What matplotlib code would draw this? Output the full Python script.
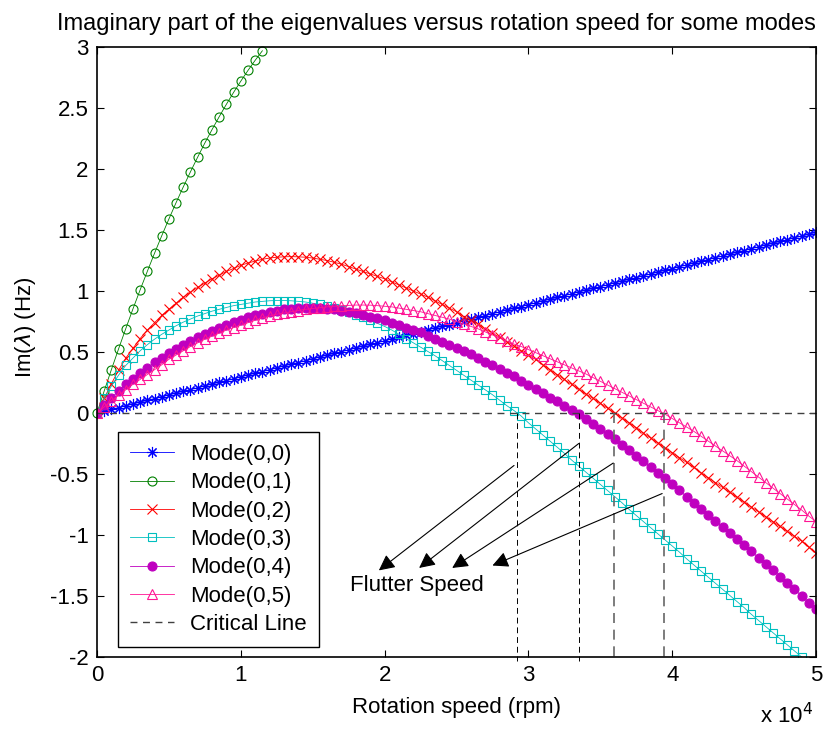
import numpy as np
import matplotlib
matplotlib.use('Agg')
import matplotlib.pyplot as plt

plt.rcParams['font.family'] = ['Liberation Sans', 'DejaVu Sans']

# rotation speed, in units of 1e4 rpm (one sample every 500 rpm)
speed = np.linspace(0, 5, 101)
speed_01 = speed[:24]

# imaginary part of eigenvalues (Hz)
mode_00 = [0.000, 0.015, 0.030, 0.044, 0.059, 0.074, 0.089, 0.104, 0.118, 0.133,
           0.148, 0.163, 0.178, 0.192, 0.207, 0.222, 0.237, 0.252, 0.266, 0.281,
           0.296, 0.311, 0.326, 0.340, 0.355, 0.370, 0.385, 0.400, 0.414, 0.429,
           0.444, 0.459, 0.474, 0.488, 0.503, 0.518, 0.533, 0.548, 0.562, 0.577,
           0.592, 0.607, 0.622, 0.636, 0.651, 0.666, 0.681, 0.696, 0.710, 0.725,
           0.740, 0.755, 0.770, 0.784, 0.799, 0.814, 0.829, 0.844, 0.858, 0.873,
           0.888, 0.903, 0.918, 0.932, 0.947, 0.962, 0.977, 0.992, 1.006, 1.021,
           1.036, 1.051, 1.066, 1.080, 1.095, 1.110, 1.125, 1.140, 1.154, 1.169,
           1.184, 1.199, 1.214, 1.228, 1.243, 1.258, 1.273, 1.288, 1.302, 1.317,
           1.332, 1.347, 1.362, 1.376, 1.391, 1.406, 1.421, 1.436, 1.450, 1.465,
           1.480]

mode_01 = [0.000, 0.180, 0.355, 0.525, 0.691, 0.853, 1.009, 1.161, 1.309, 1.452,
           1.590, 1.724, 1.853, 1.977, 2.097, 2.213, 2.323, 2.429, 2.531, 2.628,
           2.720, 2.808, 2.891, 2.969]

mode_02 = [0.000, 0.120, 0.240, 0.350, 0.450, 0.530, 0.610, 0.680, 0.740, 0.800,
           0.850, 0.900, 0.950, 0.990, 1.030, 1.065, 1.100, 1.130, 1.160, 1.185,
           1.210, 1.230, 1.245, 1.260, 1.270, 1.277, 1.280, 1.282, 1.280, 1.277,
           1.270, 1.260, 1.250, 1.235, 1.220, 1.200, 1.180, 1.160, 1.140, 1.120,
           1.100, 1.075, 1.050, 1.025, 1.000, 0.975, 0.950, 0.920, 0.890, 0.860,
           0.830, 0.790, 0.760, 0.730, 0.690, 0.655, 0.620, 0.585, 0.550, 0.510,
           0.475, 0.440, 0.395, 0.355, 0.315, 0.275, 0.235, 0.195, 0.155, 0.120,
           0.080, 0.040, 0.000, -0.040, -0.080, -0.120, -0.165, -0.205, -0.245, -0.285,
           -0.325, -0.365, -0.405, -0.445, -0.490, -0.530, -0.570, -0.610, -0.650, -0.690,
           -0.730, -0.770, -0.810, -0.850, -0.890, -0.930, -0.970, -1.010, -1.050, -1.100,
           -1.150]

mode_03 = [0.000, 0.120, 0.220, 0.310, 0.390, 0.450, 0.510, 0.560, 0.605, 0.645,
           0.680, 0.715, 0.745, 0.770, 0.795, 0.815, 0.835, 0.850, 0.865, 0.880,
           0.890, 0.900, 0.910, 0.915, 0.920, 0.922, 0.922, 0.920, 0.915, 0.910,
           0.900, 0.890, 0.875, 0.860, 0.845, 0.825, 0.805, 0.785, 0.760, 0.735,
           0.710, 0.680, 0.645, 0.610, 0.575, 0.540, 0.505, 0.470, 0.430, 0.390,
           0.350, 0.310, 0.270, 0.230, 0.190, 0.150, 0.105, 0.060, 0.020, -0.025,
           -0.080, -0.130, -0.180, -0.230, -0.280, -0.330, -0.385, -0.435, -0.485, -0.535,
           -0.585, -0.635, -0.685, -0.735, -0.790, -0.840, -0.890, -0.940, -0.990, -1.040,
           -1.090, -1.140, -1.195, -1.245, -1.295, -1.345, -1.395, -1.445, -1.495, -1.545,
           -1.595, -1.650, -1.700, -1.750, -1.800, -1.850, -1.900, -1.950, -2.000, -2.050,
           -2.100]

mode_04 = [0.000, 0.065, 0.125, 0.180, 0.235, 0.280, 0.325, 0.370, 0.415, 0.455,
           0.490, 0.525, 0.560, 0.590, 0.620, 0.650, 0.675, 0.700, 0.725, 0.745,
           0.765, 0.785, 0.800, 0.815, 0.830, 0.840, 0.850, 0.855, 0.860, 0.862,
           0.862, 0.860, 0.855, 0.850, 0.840, 0.830, 0.820, 0.805, 0.790, 0.775,
           0.760, 0.740, 0.720, 0.700, 0.680, 0.660, 0.635, 0.610, 0.585, 0.560,
           0.535, 0.510, 0.480, 0.450, 0.420, 0.390, 0.360, 0.330, 0.300, 0.265,
           0.230, 0.195, 0.160, 0.125, 0.095, 0.060, 0.025, -0.005, -0.050, -0.090,
           -0.130, -0.170, -0.215, -0.260, -0.305, -0.350, -0.395, -0.440, -0.490, -0.535,
           -0.585, -0.635, -0.685, -0.735, -0.785, -0.835, -0.885, -0.935, -0.985, -1.035,
           -1.085, -1.135, -1.185, -1.235, -1.285, -1.340, -1.390, -1.445, -1.500, -1.555,
           -1.610]

mode_05 = [0.000, 0.050, 0.100, 0.145, 0.190, 0.235, 0.275, 0.315, 0.355, 0.395,
           0.440, 0.475, 0.510, 0.545, 0.575, 0.605, 0.630, 0.655, 0.680, 0.700,
           0.720, 0.740, 0.760, 0.780, 0.795, 0.810, 0.820, 0.830, 0.840, 0.850,
           0.857, 0.863, 0.870, 0.875, 0.880, 0.882, 0.885, 0.885, 0.884, 0.880,
           0.875, 0.870, 0.860, 0.850, 0.840, 0.830, 0.815, 0.800, 0.785, 0.770,
           0.750, 0.730, 0.710, 0.690, 0.665, 0.640, 0.615, 0.590, 0.565, 0.545,
           0.520, 0.495, 0.470, 0.445, 0.420, 0.395, 0.370, 0.345, 0.320, 0.290,
           0.260, 0.230, 0.200, 0.170, 0.140, 0.110, 0.080, 0.050, 0.020, -0.010,
           -0.045, -0.080, -0.115, -0.150, -0.190, -0.230, -0.270, -0.310, -0.350, -0.390,
           -0.435, -0.480, -0.525, -0.570, -0.615, -0.660, -0.705, -0.750, -0.795, -0.845,
           -0.890]

# flutter speeds (zero crossings) of modes (0,3), (0,4), (0,2), (0,5)
flutter = [2.92, 3.35, 3.595, 3.94]
# arrow tails (on the curves) and heads (near the label)
arrow_tail_x = [2.90, 3.35, 3.59, 3.93]
arrow_tail_y = [-0.43, -0.25, -0.41, -0.66]
arrow_head_x = [1.96, 2.24, 2.47, 2.75]
arrow_head_y = [-1.29, -1.27, -1.27, -1.25]

fig = plt.figure(figsize=(8.31, 7.31), dpi=100)
ax = fig.add_axes([0.1167, 0.1012, 0.8653, 0.8345])

ms = 6
ax.plot(speed, mode_00, '-', marker=(8, 2, 0), color='#0000ff', lw=0.6, ms=8, mew=0.8,
        label='Mode(0,0)')
ax.plot(speed_01, mode_01, '-o', color='#008000', lw=0.6, ms=ms + 0.5, mew=0.8,
        mfc='none', label='Mode(0,1)', clip_on=False)
ax.plot(speed, mode_02, '-x', color='#ff0000', lw=0.6, ms=ms + 0.5, mew=0.8, label='Mode(0,2)')
ax.plot(speed, mode_03, '-s', color='#00bfbf', lw=0.6, ms=ms, mew=0.8,
        mfc='none', label='Mode(0,3)')
ax.plot(speed, mode_04, '-o', color='#bf00bf', lw=0.6, ms=ms + 0.5, mew=0.8,
        mfc='#bf00bf', label='Mode(0,4)')
ax.plot(speed, mode_05, '-^', color='#ff1493', lw=0.6, ms=ms + 1, mew=0.8,
        mfc='none', label='Mode(0,5)')

# critical line
ax.plot([0, 5], [0, 0], color='0.25', lw=1.0, dashes=(5, 4), label='Critical Line')
for i, xf in enumerate(flutter):
    c = 'k' if i < 2 else '0.4'
    w = 0.7 if i < 2 else 1.2
    ax.plot([xf, xf], [0, -2.03], color=c, lw=w, dashes=(6, 4), clip_on=False)

for tx, ty, hx, hy in zip(arrow_tail_x, arrow_tail_y, arrow_head_x, arrow_head_y):
    ax.annotate('', xy=(hx, hy), xytext=(tx, ty),
                arrowprops=dict(arrowstyle='-|>', color='k', lw=0.8,
                                mutation_scale=24, shrinkA=0, shrinkB=0))
ax.text(1.76, -1.41, 'Flutter Speed', fontsize=16, va='center', ha='left')

ax.set_xlim(0, 5)
ax.set_ylim(-2, 3)
ax.set_xticks([0, 1, 2, 3, 4, 5])
ax.set_yticks([-2, -1.5, -1, -0.5, 0, 0.5, 1, 1.5, 2, 2.5, 3])
ax.set_yticklabels(['-2', '-1.5', '-1', '-0.5', '0', '0.5', '1', '1.5', '2', '2.5', '3'])
ax.tick_params(direction='in', length=5, width=0.8, labelsize=16,
               top=True, right=True, pad=6)
for s in ax.spines.values():
    s.set_linewidth(1.2)

ax.set_xlabel('Rotation speed (rpm)', fontsize=16, labelpad=8)
ax.set_ylabel('Im($\\lambda$) (Hz)', fontsize=16)
ax.yaxis.set_label_coords(-0.082, 0.54)
ax.set_title('Imaginary part of the eigenvalues versus rotation speed for some modes',
             fontsize=17.0, pad=12, x=0.4715)
ax.text(0.922, -0.108, 'x 10$^{4}$', transform=ax.transAxes, fontsize=16,
        ha='left', va='baseline')

leg = ax.legend(loc='lower left', bbox_to_anchor=(0.029, 0.016), borderaxespad=0,
                fontsize=16, fancybox=False, edgecolor='k', framealpha=1,
                handlelength=2.0, handletextpad=0.7, labelspacing=0.33,
                borderpad=0.55)
leg.get_frame().set_linewidth(1.0)

fig.savefig('out.png', dpi=100)
